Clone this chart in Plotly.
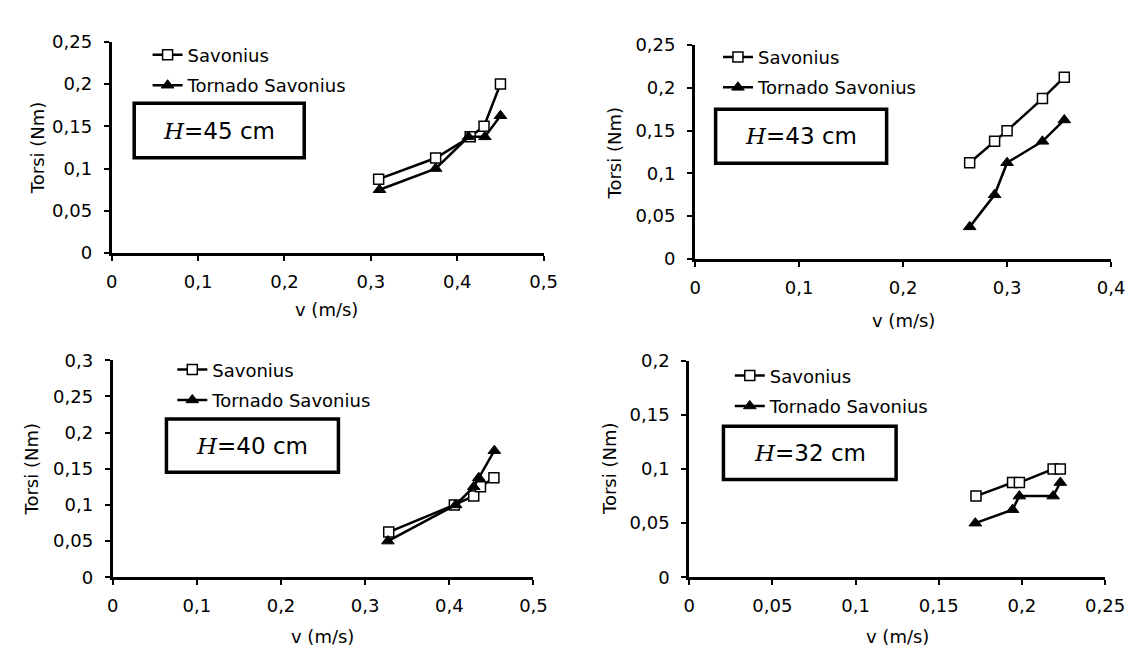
import plotly.graph_objects as go

# ---------------- data ----------------
labels = ["Savonius", "Tornado Savonius"]
heights = ["45", "43", "40", "32"]

# H = 45 cm
sav45_v = [0.309, 0.375, 0.415, 0.431, 0.450]
sav45_t = [0.0875, 0.1125, 0.1375, 0.15, 0.20]
tor45_v = [0.310, 0.375, 0.413, 0.432, 0.450]
tor45_t = [0.075, 0.10, 0.1375, 0.1375, 0.1625]

# H = 43 cm
sav43_v = [0.264, 0.288, 0.300, 0.334, 0.355]
sav43_t = [0.1125, 0.1375, 0.15, 0.1875, 0.2125]
tor43_v = [0.264, 0.288, 0.300, 0.334, 0.355]
tor43_t = [0.0375, 0.075, 0.1125, 0.1375, 0.1625]

# H = 40 cm
sav40_v = [0.328, 0.406, 0.429, 0.437, 0.453]
sav40_t = [0.0625, 0.10, 0.1125, 0.125, 0.1375]
tor40_v = [0.327, 0.4075, 0.429, 0.435, 0.4535]
tor40_t = [0.05, 0.10, 0.125, 0.1375, 0.175]

# H = 32 cm
sav32_v = [0.1724, 0.1944, 0.1985, 0.2188, 0.2231]
sav32_t = [0.075, 0.0875, 0.0875, 0.10, 0.10]
tor32_v = [0.172, 0.1944, 0.1985, 0.2188, 0.2231]
tor32_t = [0.05, 0.0625, 0.075, 0.075, 0.0875]

# tick values / labels
x_ticks_05 = [0, 0.1, 0.2, 0.3, 0.4, 0.5]
x_text_05 = ["0", "0,1", "0,2", "0,3", "0,4", "0,5"]
x_ticks_04 = [0, 0.1, 0.2, 0.3, 0.4]
x_text_04 = ["0", "0,1", "0,2", "0,3", "0,4"]
x_ticks_025 = [0, 0.05, 0.1, 0.15, 0.2, 0.25]
x_text_025 = ["0", "0,05", "0,1", "0,15", "0,2", "0,25"]
y_ticks_025 = [0, 0.05, 0.1, 0.15, 0.2, 0.25]
y_text_025 = ["0", "0,05", "0,1", "0,15", "0,2", "0,25"]
y_ticks_03 = [0, 0.05, 0.1, 0.15, 0.2, 0.25, 0.3]
y_text_03 = ["0", "0,05", "0,1", "0,15", "0,2", "0,25", "0,3"]
y_ticks_02 = [0, 0.05, 0.1, 0.15, 0.2]
y_text_02 = ["0", "0,05", "0,1", "0,15", "0,2"]

x_title = "v (m/s)"
y_title = "Torsi (Nm)"

# ---------------- layout helpers ----------------
W, H = 1140, 647
FONT = "DejaVu Sans, Verdana, sans-serif"
FS = 18


def px_x(p):
    return p / W


def px_y(p):
    return 1 - p / H


panels = [
    dict(sv=sav45_v, st=sav45_t, tv=tor45_v, tt=tor45_t,
         xt=(x_ticks_05, x_text_05), yt=(y_ticks_025, y_text_025),
         box=(100, 542, 23.5, 242), leg=(136.7, 18.2), tb=(123, 297, 87, 143.5),
         xtp=(320, 300), ytp=(24, 133)),
    dict(sv=sav43_v, st=sav43_t, tv=tor43_v, tt=tor43_t,
         xt=(x_ticks_04, x_text_04), yt=(y_ticks_025, y_text_025),
         box=(697, 1122.7, 27, 248), leg=(720.4, 20.4), tb=(718, 893, 93.3, 149),
         xtp=(910, 312), ytp=(615, 138)),
    dict(sv=sav40_v, st=sav40_t, tv=tor40_v, tt=tor40_t,
         xt=(x_ticks_05, x_text_05), yt=(y_ticks_03, y_text_03),
         box=(101, 531.6, 352.7, 577), leg=(162, 343.5), tb=(156, 332, 413.3, 468.5),
         xtp=(316, 638), ytp=(18, 465)),
    dict(sv=sav32_v, st=sav32_t, tv=tor32_v, tt=tor32_t,
         xt=(x_ticks_025, x_text_025), yt=(y_ticks_02, y_text_02),
         box=(691, 1116.5, 353.3, 577), leg=(732.5, 349.7), tb=(726, 902.7, 421, 476),
         xtp=(904, 638), ytp=(610, 465)),
]

fig = go.Figure()
layout = dict(
    width=W, height=H,
    margin=dict(l=0, r=0, t=0, b=0),
    paper_bgcolor="white", plot_bgcolor="white",
    font=dict(family=FONT, size=FS, color="black"),
    showlegend=True,
)
annotations = []
shapes = []

for i, p in enumerate(panels):
    n = "" if i == 0 else str(i + 1)
    xa, ya = "x" + n, "y" + n
    leg = "legend" + n
    x0, x1, yt_, yb_ = p["box"]
    common = dict(showline=True, linecolor="black", linewidth=3,
                  ticks="outside", ticklen=5, tickwidth=2, tickcolor="black",
                  showgrid=False, zeroline=False,
                  tickfont=dict(family=FONT, size=FS, color="black"))
    layout["xaxis" + n] = dict(domain=[px_x(x0), px_x(x1)], anchor=ya,
                               range=[0, p["xt"][0][-1]], ticklabelstandoff=5,
                               tickvals=p["xt"][0], ticktext=p["xt"][1], **common)
    layout["yaxis" + n] = dict(domain=[px_y(yb_), px_y(yt_)], anchor=xa,
                               range=[0, p["yt"][0][-1]], ticklabelstandoff=8,
                               tickvals=p["yt"][0], ticktext=p["yt"][1], **common)
    layout[leg] = dict(x=px_x(p["leg"][0]), y=px_y(p["leg"][1]),
                       xanchor="left", yanchor="top",
                       bgcolor="rgba(0,0,0,0)", borderwidth=0,
                       traceorder="grouped", tracegroupgap=4,
                       font=dict(family=FONT, size=FS, color="black"),
                       itemwidth=30)

    fig.add_trace(go.Scatter(
        x=p["sv"], y=p["st"], mode="lines+markers", name=labels[0],
        xaxis=xa, yaxis=ya, legend=leg, legendgroup=f"s{i}",
        line=dict(color="black", width=2.5),
        marker=dict(symbol="square", size=10, color="white",
                    line=dict(color="black", width=1.5)),
        cliponaxis=False))
    fig.add_trace(go.Scatter(
        x=p["tv"], y=p["tt"], mode="lines+markers", name=labels[1],
        xaxis=xa, yaxis=ya, legend=leg, legendgroup=f"t{i}",
        line=dict(color="black", width=2.5),
        marker=dict(symbol="triangle-up", size=11, color="black",
                    line=dict(color="black", width=1)),
        cliponaxis=False))

    bx0, bx1, by0, by1 = p["tb"]
    shapes.append(dict(type="rect", xref="paper", yref="paper",
                       x0=px_x(bx0), x1=px_x(bx1), y0=px_y(by1), y1=px_y(by0),
                       line=dict(color="black", width=3.5), fillcolor="white",
                       layer="above"))
    annotations.append(dict(
        xref="paper", yref="paper",
        x=px_x((bx0 + bx1) / 2), y=px_y((by0 + by1) / 2),
        xanchor="center", yanchor="middle", showarrow=False,
        text="<span style='font-family:DejaVu Serif'><i>H</i></span>=" + heights[i] + " cm",
        font=dict(family=FONT, size=23, color="black")))
    annotations.append(dict(
        xref="paper", yref="paper", x=px_x(p["xtp"][0]), y=px_y(p["xtp"][1]),
        xanchor="center", yanchor="middle", showarrow=False, text=x_title,
        font=dict(family=FONT, size=FS, color="black")))
    annotations.append(dict(
        xref="paper", yref="paper", x=px_x(p["ytp"][0]), y=px_y(p["ytp"][1]),
        xanchor="center", yanchor="middle", showarrow=False, text=y_title,
        textangle=-90, font=dict(family=FONT, size=FS, color="black")))

layout["annotations"] = annotations
layout["shapes"] = shapes
fig.update_layout(**layout)
fig.write_html("out.html")
